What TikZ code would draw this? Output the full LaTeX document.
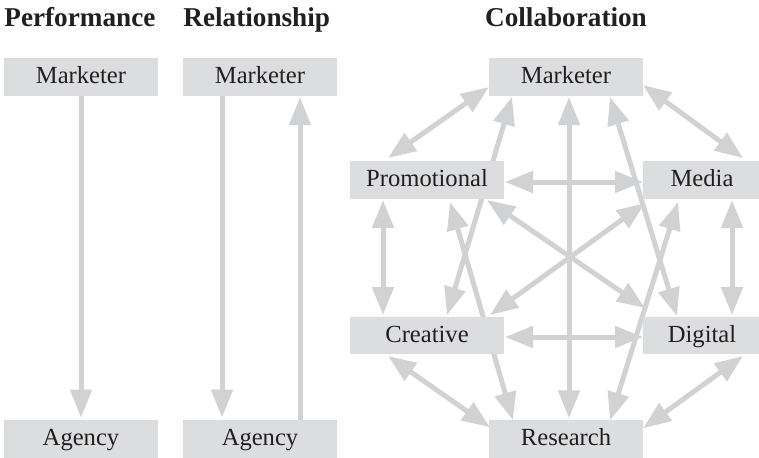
\documentclass[tikz,border=0pt]{standalone}
\usepackage{fontspec}
\setmainfont{Liberation Serif}
\usetikzlibrary{arrows.meta,calc}
\definecolor{boxgray}{HTML}{DCDDDE}
\definecolor{linkgray}{HTML}{D1D2D4}
\definecolor{ink}{HTML}{231F20}
\pgfdeclarelayer{links}
\pgfsetlayers{links,main}
\begin{document}
\begin{tikzpicture}[x=0.5pt,y=-0.5pt,
  >={Triangle[width=10.5pt,length=14pt]},
  card/.style={fill=boxgray, inner sep=0pt, minimum width=77pt,
    minimum height=18.75pt, text height=0.7em, text depth=0.05em,
    font=\fontsize{12.3}{14}\selectfont, text=ink},
  narrowcard/.style={card, minimum width=59pt},
  heading/.style={font=\bfseries\fontsize{13.6}{16}\selectfont,
    text=ink, inner sep=0pt},
  link/.style={draw=linkgray, line width=2.5pt}]
\useasboundingbox (0,0) rectangle (759,457);

% column headings
\node[heading, anchor=base west] (hperf) at (4,26) {Performance};
\node[heading, anchor=base west] (hrel) at (183,26) {Relationship};
\node[heading, anchor=base] (hcol) at (566,26) {Collaboration};

% performance model
\node[card] (pm) at (81,77) {Marketer};
\node[card] (pa) at (81,438.75) {Agency};

% relationship model
\node[card] (rm) at (260,77) {Marketer};
\node[card] (ra) at (260,438.75) {Agency};

% collaboration model
\node[card] (cm) at (566,77) {Marketer};
\node[card] (promo) at (427,180) {Promotional};
\node[narrowcard] (media) at (702,180) {Media};
\node[card] (creat) at (427,335.5) {Creative};
\node[narrowcard] (digit) at (702,335.5) {Digital};
\node[card] (res) at (566,438.75) {Research};

\begin{pgfonlayer}{links}
  % performance
  \draw[link,->] (pm.south) -- ($(pa.north)+(0,-2)$);
  % relationship
  \draw[link,->] ($(rm.south)+(-38,0)$) -- ($(ra.north)+(-38,-2)$);
  \draw[link,->] ($(ra.north)+(40,0)$) -- ($(rm.south)+(40,1)$);

  % collaboration: marketer links
  \draw[link,<->] ($(promo)+(-39,-22)$) -- ($(cm)+(-77,10)$);
  \draw[link,<->] ($(media)+(41,-22)$) -- ($(cm)+(77,8)$);
  \draw[link,<->] ($(creat)+(20,-20.5)$) -- ($(cm)+(-54,20)$);
  \draw[link,<->] ($(digit)+(-25,-19.5)$) -- ($(cm)+(44,20)$);
  \draw[link,<->] ($(res)+(3,-20.5)$) -- ($(cm)+(3,20)$);

  % collaboration: research links
  \draw[link,<->] ($(promo)+(23,22)$) -- ($(res)+(-53,-18.5)$);
  \draw[link,<->] ($(media)+(-24,22)$) -- ($(res)+(44,-18.5)$);
  \draw[link,<->] ($(creat)+(-39,20.5)$) -- ($(res)+(-76,-11.5)$);
  \draw[link,<->] ($(digit)+(41,20.5)$) -- ($(res)+(77,-10.5)$);

  % collaboration: agency links
  \draw[link,<->] ($(promo)+(78,2)$) -- ($(media)+(-59,2)$);
  \draw[link,<->] ($(creat)+(78,1.5)$) -- ($(digit)+(-59,1.5)$);
  \draw[link,<->] ($(promo)+(-44,20)$) -- ($(creat)+(-44,-20.5)$);
  \draw[link,<->] ($(media)+(30,20)$) -- ($(digit)+(30,-20.5)$);
  \draw[link,<->] ($(promo)+(60,20)$) -- ($(digit)+(-57,-27.5)$);
  \draw[link,<->] ($(media)+(-57,23)$) -- ($(creat)+(63,-20.5)$);
\end{pgfonlayer}
\end{tikzpicture}
\end{document}
